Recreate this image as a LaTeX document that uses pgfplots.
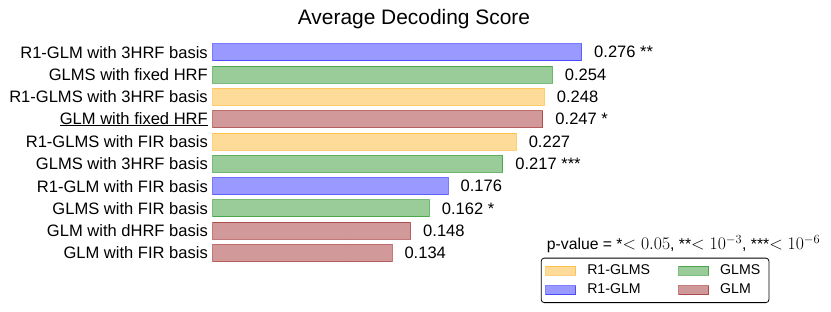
\RequirePackage{fix-cm}
\documentclass[border=0pt]{standalone}
\usepackage{pgfplots}
\pgfplotsset{compat=1.18}
\usepackage[no-math]{fontspec}
\setmainfont{Liberation Sans}
\definecolor{mblue}{RGB}{0,0,255}
\definecolor{mgreen}{RGB}{0,128,0}
\definecolor{morange}{RGB}{255,165,0}
\definecolor{mred}{RGB}{139,0,0}
\newcommand{\lbl}{\fontsize{16.6}{18}\selectfont}
\newcommand{\mth}[1]{{\fontsize{17.8}{19}\selectfont$#1$}}
\begin{document}
\begin{tikzpicture}
\path[use as bounding box] (-213bp,-47.85bp) rectangle (618bp,264.15bp);
\begin{axis}[
  at={(0,0)}, anchor=south west,
  x=1336bp, y=22.3bp,
  xmin=0, xmax=0.3, ymin=-0.5, ymax=9.5,
  xbar, bar width=17bp, bar shift=0pt,
  axis line style={draw=none},
  major tick length=0pt,
  xtick={0.1,0.2}, xticklabels={},
  xmajorgrids, grid style={white, line width=1.2bp},
  ytick={0,1,2,3,4,5,6,7,8,9},
  yticklabels={GLM with FIR basis, GLM with dHRF basis, GLMS with FIR basis, R1-GLM with FIR basis, GLMS with 3HRF basis, R1-GLMS with FIR basis, \underline{GLM with fixed HRF}, R1-GLMS with 3HRF basis, GLMS with fixed HRF, R1-GLM with 3HRF basis},
  yticklabel style={font=\lbl, anchor=east, inner sep=0pt, xshift=-5bp},
  clip=false,
  nodes near coords, point meta=explicit symbolic,
  every node near coord/.append style={font=\lbl, anchor=west, inner sep=0pt, xshift=12bp, text=black, text opacity=1},
  legend image code/.code={\draw[#1, sharp corners] (0bp,-4.5bp) rectangle (30bp,4.5bp);},
  legend columns=2,
  legend cell align=left,
  legend style={at={(0.818,0.0289)}, anchor=north west, draw=black, rounded corners=3bp, line width=0.8bp,
    font=\fontsize{14.2}{16}\selectfont, inner xsep=4bp, inner ysep=4bp,
    nodes={text height=10bp, text depth=3bp, inner ysep=2bp, inner xsep=4.7bp},
    /tikz/every odd column/.append style={column sep=6.3bp},
    /tikz/every even column/.append style={column sep=23.3bp}, row sep=2.5bp},
]
\addplot[fill=morange, draw=morange, fill opacity=0.4, draw opacity=0.5, line width=1bp]
  coordinates {(0.248,7) [0.248] (0.227,5) [0.227]};
\addlegendentry{R1-GLMS}
\addplot[fill=mgreen, draw=mgreen, fill opacity=0.4, draw opacity=0.5, line width=1bp]
  coordinates {(0.254,8) [0.254] (0.217,4) [0.217 ***] (0.162,2) [0.162 *]};
\addlegendentry{GLMS}
\addplot[fill=mblue, draw=mblue, fill opacity=0.4, draw opacity=0.5, line width=1bp]
  coordinates {(0.276,9) [0.276 **] (0.176,3) [0.176]};
\addlegendentry{R1-GLM}
\addplot[fill=mred, draw=mred, fill opacity=0.4, draw opacity=0.5, line width=1bp]
  coordinates {(0.247,6) [0.247 *] (0.148,1) [0.148] (0.134,0) [0.134]};
\addlegendentry{GLM}
\end{axis}
\node[anchor=base, inner sep=0pt, font=\fontsize{21}{24}\selectfont] at (201bp,239.15bp) {Average Decoding Score};
\node[anchor=base west, inner sep=0pt, font=\fontsize{15.8}{17}\selectfont] at (333.7bp,14.15bp) {p-value = *\mth{<0.05}, **\mth{<10^{-3}}, ***\mth{<10^{-6}}};
\end{tikzpicture}
\end{document}
